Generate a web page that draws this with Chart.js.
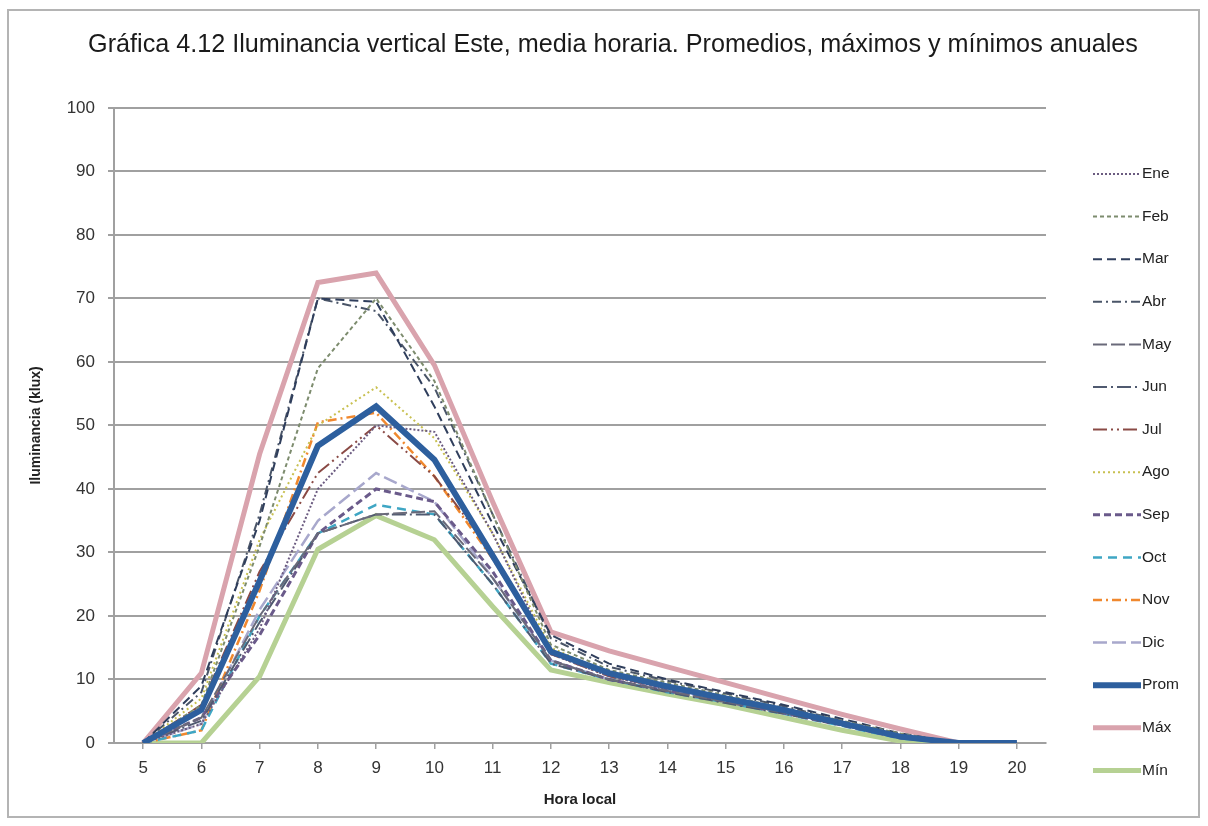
<!DOCTYPE html>
<html>
<head>
<meta charset="utf-8">
<script src="https://cdn.jsdelivr.net/npm/chart.js@4"></script>
<style>
  body { margin: 0; background: #fff; }
  #wrap { position: relative; width: 1208px; height: 826px; }
  #frame { position: absolute; left: 7px; top: 9px; width: 1193px; height: 809px; border: 2px solid #b4b4b4; box-sizing: border-box; pointer-events: none; }
</style>
</head>
<body>
<div id="wrap">
  <canvas id="myChart"></canvas>
  <div id="frame"></div>
</div>
<script>
const ctx = document.getElementById('myChart').getContext('2d');
const FONT = '"Liberation Sans", Arial, Helvetica, sans-serif';

// hora local
const horas = ['5','6','7','8','9','10','11','12','13','14','15','16','17','18','19','20'];
const yTicks = [0, 10, 20, 30, 40, 50, 60, 70, 80, 90, 100];

// klux
const ene = [0, 3, 18, 40, 50, 49, 33, 14, 10.5, 8.5, 7, 5, 3, 1, 0, 0];
const feb = [0, 6, 31, 59, 70, 57, 36, 15.5, 11.5, 9.5, 7.5, 5.5, 3.5, 1.5, 0, 0];
const mar = [0, 9, 35, 70, 69.5, 53, 34.5, 17, 12.5, 10, 8, 6, 3.8, 1.5, 0, 0];
const abr = [0, 8, 36, 70, 68, 56, 36, 16.5, 12, 9.8, 7.8, 5.8, 3.5, 1.2, 0, 0];
const may = [0, 4, 20, 33, 36, 36.5, 26, 13, 10, 8.2, 6.5, 4.8, 3, 1, 0, 0];
const jun = [0, 3.5, 19, 33, 36, 36, 25, 12.5, 10, 8, 6.3, 4.6, 2.8, 0.8, 0, 0];
const jul = [0, 6, 27, 42.5, 50, 42, 30, 14, 10.5, 8.6, 6.9, 5, 3, 1, 0, 0];
const ago = [0, 7, 32, 50, 56, 48, 33, 15, 11, 9, 7.3, 5.3, 3.2, 1.1, 0, 0];
const sep = [0, 4, 17, 33, 40, 38, 27, 13, 10, 8.2, 6.5, 4.7, 2.8, 0.8, 0, 0];
const oct = [0, 2, 20, 33, 37.5, 36, 25, 12.5, 10, 8, 6.4, 4.6, 2.7, 0.7, 0, 0];
const nov = [0, 2, 24, 50.5, 52, 42, 29, 14.5, 10.8, 8.8, 7, 5.1, 3.1, 1, 0, 0];
const dic = [0, 3, 21, 35, 42.5, 38, 26, 13, 10, 8.2, 6.5, 4.8, 2.9, 0.9, 0, 0];
const prom = [0, 5.2, 25.5, 46.8, 53, 44.6, 29.5, 14.4, 11, 8.9, 7, 5.2, 3.1, 1, 0, 0];
const maxi = [0, 11, 45.5, 72.5, 74, 59.5, 38, 17.5, 14.5, 12, 9.5, 7, 4.5, 2.2, 0, 0];
const mini = [0, 0, 10.5, 30.5, 35.8, 32, 21.5, 11.5, 9.5, 7.7, 6, 4, 2, 0.3, 0, 0];

function serie(label, data, color, width, dash, order) {
  return { label, data, borderColor: color, backgroundColor: color, borderWidth: width,
    borderDash: dash, pointRadius: 0, tension: 0, fill: false, order };
}

const datasets = [
  serie('Ene', ene, '#6b5b80', 2, [2, 2], 1),
  serie('Feb', feb, '#7d8c6e', 2, [4, 3], 1),
  serie('Mar', mar, '#2f3e5c', 2, [9, 5], 1),
  serie('Abr', abr, '#4a5568', 2, [9, 4, 2, 4], 1),
  serie('May', may, '#6a6a7a', 2, [14, 4], 1),
  serie('Jun', jun, '#505a70', 2, [14, 4, 2, 4], 1),
  serie('Jul', jul, '#8a4a45', 2, [14, 4, 2, 4, 2, 4], 1),
  serie('Ago', ago, '#c8c050', 2, [2, 3], 1),
  serie('Sep', sep, '#6a5a8a', 3, [7, 4], 1),
  serie('Oct', oct, '#3fa6c4', 2.5, [9, 6], 1),
  serie('Nov', nov, '#f0882e', 2.5, [9, 4, 2, 4], 1),
  serie('Dic', dic, '#a8a8cc', 2.5, [14, 5], 1),
  serie('Prom', prom, '#2d5f9e', 6, [], 0),
  serie('Máx', maxi, '#d9a3ad', 5, [], 2),
  serie('Mín', mini, '#b6d193', 5, [], 2)
];

// leyenda dibujada a la derecha, una fila por serie
const legendLines = {
  id: 'legendLines',
  afterDraw(chart) {
    const c = chart.ctx;
    c.save();
    c.font = '15.5px ' + FONT;
    c.textBaseline = 'middle';
    c.fillStyle = '#222';
    chart.data.datasets.forEach((ds, i) => {
      const y = 174 + i * 42.6;
      c.strokeStyle = ds.borderColor;
      c.lineWidth = ds.borderWidth;
      c.setLineDash(ds.borderDash);
      c.beginPath();
      c.moveTo(1093, y);
      c.lineTo(1141, y);
      c.stroke();
      c.setLineDash([]);
      c.fillText(ds.label, 1142, y);
    });
    c.restore();
  }
};

const myChart = new Chart(ctx, {
  type: 'line',
  data: { labels: horas, datasets },
  options: {
    responsive: true,
    maintainAspectRatio: false,
    animation: false,
    layout: { padding: { top: 0, right: 0, bottom: 8, left: 18 } },
    plugins: {
      legend: { display: false },
      tooltip: { enabled: false },
      title: {
        display: true,
        text: 'Gráfica 4.12 Iluminancia vertical Este, media horaria. Promedios, máximos y mínimos anuales',
        font: { family: FONT, size: 25.2, weight: 'normal' },
        color: '#1a1a1a',
        padding: { top: 29.5, bottom: 48.2 }
      }
    },
    scales: {
      x: {
        offset: true,
        grid: { display: true, drawOnChartArea: false, tickLength: 6, color: '#a0a0a0', lineWidth: 1.5 },
        border: { display: true, color: '#a0a0a0', width: 2 },
        ticks: { font: { family: FONT, size: 17 }, color: '#333', padding: 9, maxRotation: 0, autoSkip: false },
        title: { display: true, text: 'Hora local', font: { family: FONT, size: 15, weight: 'bold' }, color: '#222', padding: { top: 4, bottom: 9 } },
        afterFit(s) { s.height = 75; }
      },
      y: {
        min: 0,
        max: 100,
        afterBuildTicks(s) { s.ticks = yTicks.map(v => ({ value: v })); },
        grid: { color: '#a0a0a0', lineWidth: 2, tickLength: 6 },
        border: { display: true, color: '#a0a0a0', width: 2 },
        ticks: { font: { family: FONT, size: 17 }, color: '#333', padding: 13 },
        title: { display: true, text: 'Iluminancia (klux)', font: { family: FONT, size: 14, weight: 'bold' }, color: '#222', padding: { top: 10, bottom: 0 } },
        afterFit(s) { s.width = 96; }
      },
      // espacio reservado para la leyenda
      y2: {
        position: 'right',
        grid: { display: false },
        border: { display: false },
        ticks: { display: false },
        afterFit(s) { s.width = 162; }
      }
    }
  },
  plugins: [legendLines]
});
</script>
</body>
</html>
